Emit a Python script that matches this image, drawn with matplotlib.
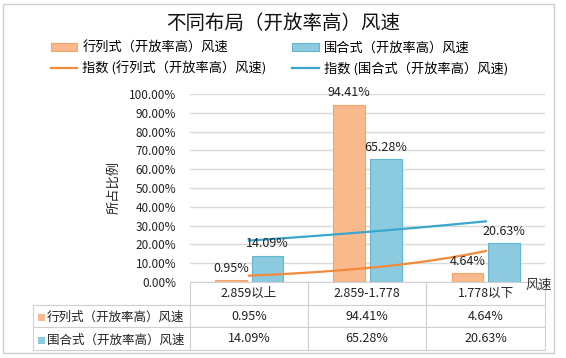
import numpy as np
import matplotlib.pyplot as plt
from matplotlib.patches import Rectangle

plt.rcParams['font.family'] = ['Noto Sans CJK SC', 'DejaVu Sans']

categories = ['2.859以上', '2.859-1.778', '1.778以下']
series_names = ['行列式（开放率高）风速', '围合式（开放率高）风速']
hanglie = [0.95, 94.41, 4.64]
weihe = [14.09, 65.28, 20.63]

title = '不同布局（开放率高）风速'
ylabel = '所占比例'
xlabel = '风速'

c_orange = '#F9B98C'
e_orange = '#F4A469'
c_blue = '#8CCBDF'
e_blue = '#62B6D0'
l_orange = '#F28A3A'
l_blue = '#3AA6CC'

fig = plt.figure(figsize=(5.66, 3.58), dpi=100)
fig.patches.append(Rectangle((0.006, 0.014), 0.973, 0.975, transform=fig.transFigure,
                             fill=False, edgecolor='#D0D0D0', linewidth=1))
ax = fig.add_axes([190 / 566, 1 - 282 / 358, 355 / 566, 188 / 358])

x = np.arange(len(categories))
w = 0.27
b1 = ax.bar(x - 0.155, np.array(hanglie) / 100, w, color=c_orange, edgecolor=e_orange,
            linewidth=0.8, label=series_names[0], zorder=2)
b2 = ax.bar(x + 0.155, np.array(weihe) / 100, w, color=c_blue, edgecolor=e_blue,
            linewidth=0.8, label=series_names[1], zorder=2)

# exponential trendlines, as Excel fits them
xs = np.linspace(0, 2, 60)
lines = []
for vals, col, name in [(hanglie, l_orange, series_names[0]), (weihe, l_blue, series_names[1])]:
    k, b = np.polyfit(x + 1, np.log(np.array(vals) / 100), 1)
    ln, = ax.plot(xs, np.exp(b + k * (xs + 1)), color=col, linewidth=1.6,
                  label='指数 (' + name + ')', zorder=3)
    lines.append(ln)

for bars, vals in [(b1, hanglie), (b2, weihe)]:
    for r, v in zip(bars, vals):
        ax.annotate(f'{v:.2f}%', (r.get_x() + r.get_width() / 2, r.get_height()),
                    xytext=(0, 4), textcoords='offset points', ha='center', va='bottom',
                    fontsize=9, color='#222222', zorder=4)

ax.set_xlim(-0.5, 2.5)
ax.set_ylim(0, 1.0)
ax.set_yticks(np.arange(0, 1.01, 0.1))
ax.set_yticklabels([f'{t * 100:.2f}%' for t in np.arange(0, 1.01, 0.1)], fontsize=8.5,
                   color='#222222')
ax.set_xticks([])
ax.tick_params(axis='y', length=0, pad=10)
ax.grid(axis='y', color='#D9D9D9', linewidth=1, zorder=0)
ax.set_axisbelow(True)
for s in ['top', 'right', 'left']:
    ax.spines[s].set_visible(False)
ax.spines['bottom'].set_color('#D0D0D0')
ax.set_ylabel(ylabel, fontsize=9.5, labelpad=6, color='#222222')
ax.text(0.983, -0.016, xlabel, transform=ax.transAxes, ha='center', va='center',
        fontsize=9.5, color='#333333')

# data table under the axes
cell_text = [[''] + categories,
             [''] + [f'{v:.2f}%' for v in hanglie],
             [''] + [f'{v:.2f}%' for v in weihe]]
tab = ax.table(cellText=cell_text, cellLoc='center',
               bbox=[-157 / 355, -68 / 188, 1 + 157 / 355, 68 / 188],
               colWidths=[157, 118, 118, 119])
tab.auto_set_font_size(False)
tab.set_fontsize(9)
for (r, c), cell in tab.get_celld().items():
    cell.set_edgecolor('#D0D0D0')
    cell.set_linewidth(0.8)
    cell.get_text().set_color('#222222')
    if r == 0 and c == 0:
        cell.visible_edges = 'B'
    elif r == 0:
        cell.visible_edges = 'LRB'

for i, (name, col) in enumerate([(series_names[0], c_orange), (series_names[1], c_blue)]):
    yy = -(23 + 12 + 23 * i) / 188
    ax.add_patch(Rectangle((-152 / 355, yy - 3.5 / 188), 7 / 355, 7 / 188,
                           transform=ax.transAxes, clip_on=False, facecolor=col,
                           edgecolor='none'))
    ax.text(-143 / 355, yy, name, transform=ax.transAxes, ha='left', va='center',
            fontsize=9, color='#222222')

fig.text(0.50, 0.935, title, ha='center', va='center', fontsize=14, color='#111111')
fig.legend(handles=[b1, lines[0], b2, lines[1]], ncol=2, loc='center',
           bbox_to_anchor=(0.494, 0.836), frameon=False, fontsize=9.5,
           handlelength=2.0, handleheight=0.6, columnspacing=1.95, labelspacing=0.5,
           handletextpad=0.4)

fig.savefig('out.png', dpi=100)
